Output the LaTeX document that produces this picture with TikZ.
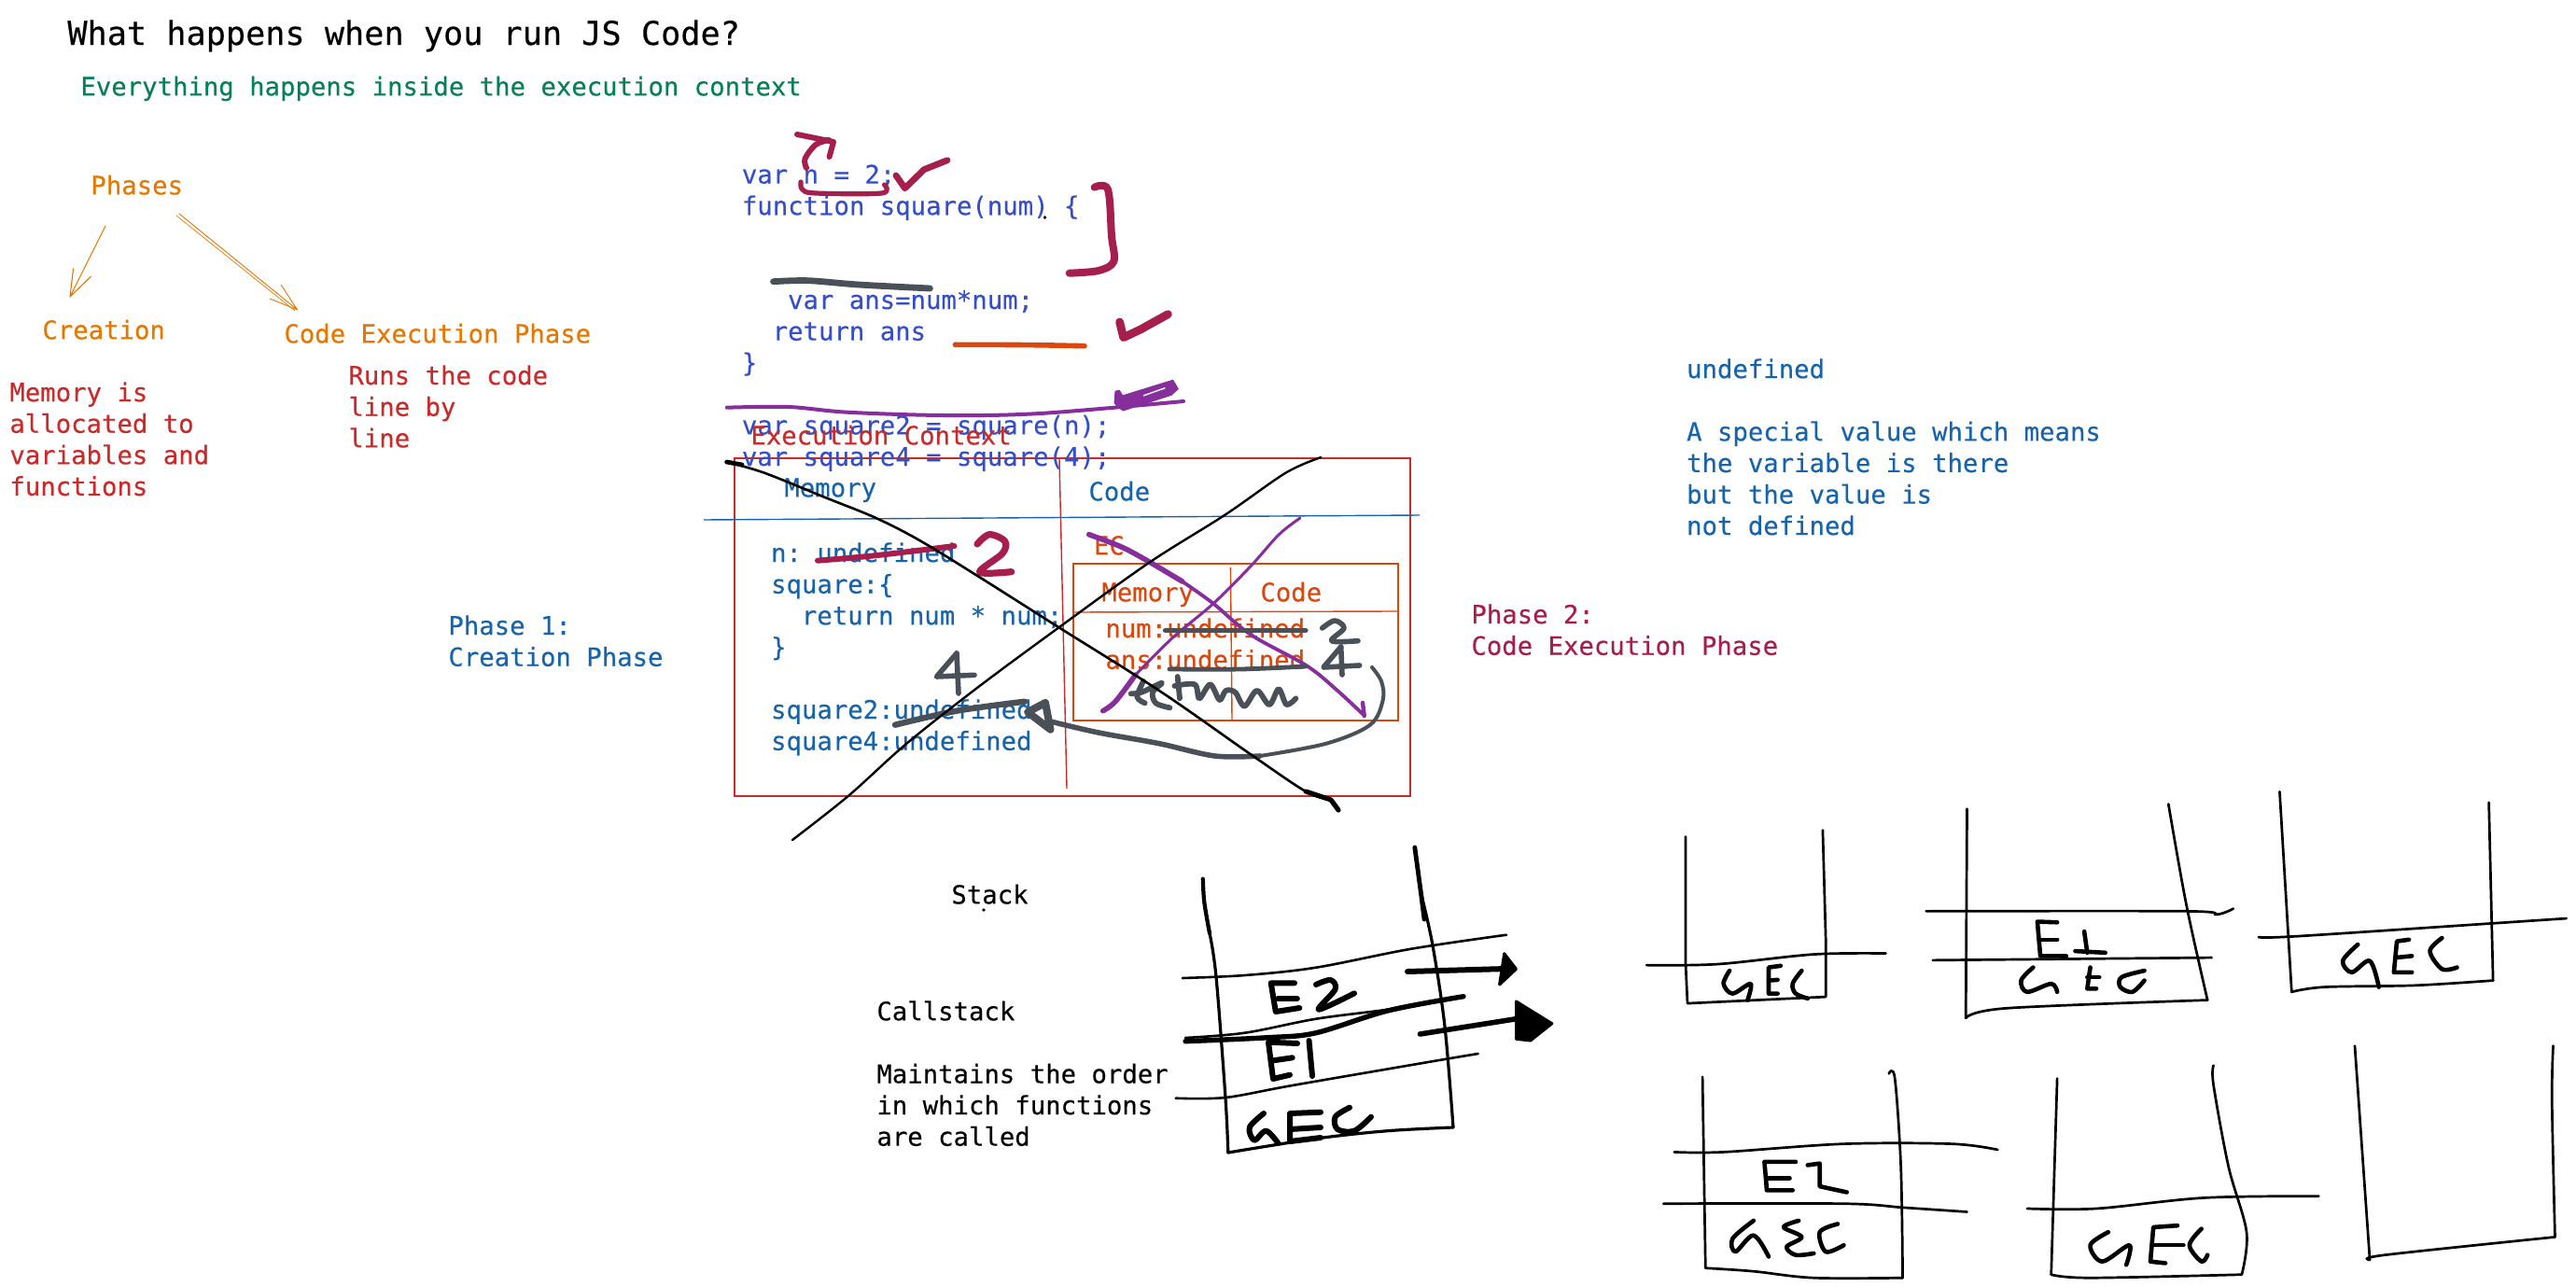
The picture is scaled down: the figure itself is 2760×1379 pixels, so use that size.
\documentclass[tikz,border=0pt]{standalone}
\usepackage{fontspec}
\setmonofont[FakeBold=0.25]{DejaVu Sans Mono}
\definecolor{cOrange}{HTML}{E67700}
\definecolor{cRed}{HTML}{C92A2A}
\definecolor{cGreen}{HTML}{087F5B}
\definecolor{cCode}{HTML}{364FC7}
\definecolor{cBlue}{HTML}{1864AB}
\definecolor{cMaroon}{HTML}{A61E4D}
\definecolor{cGrey}{HTML}{495057}
\definecolor{cBurnt}{HTML}{D9480F}
\definecolor{cPurple}{HTML}{862E9C}
\newcommand\penline[2][]{\draw[pen,#1] plot[smooth,tension=0.55] coordinates {#2};}
\newcommand\polyline[2][]{\draw[pen,#1] plot[sharp plot] coordinates {#2};}
\tikzset{
  txt/.style={anchor=north west,inner sep=0pt,align=left,
    font=\ttfamily\fontsize{13.65pt}{16.8pt}\selectfont,
    execute at begin node=\rule{0pt}{11pt}},
  pen/.style={line cap=round,line join=round,black,line width=1.3pt},
  thinbox/.style={line width=0.7pt},
  zoomC/.style={shift={(1750,830)},x=0.32206pt,y=-0.17507pt},
  zoomR/.style={shift={(1190,690)},x=0.16667pt,y=-0.16667pt}
}
\begin{document}
\begin{tikzpicture}[x=0.5pt,y=-0.5pt]
\useasboundingbox (0,0) rectangle (2760,1379);
\fill[white] (0,0) rectangle (2760,1379);

% boxes
\draw[cRed,thinbox] (787,491) -- (1511,491) -- (1511,853) -- (787,853) -- cycle;
\draw[cRed,thinbox] (1135,492) -- (1143,845);
\draw[cBlue,thinbox] (754,557) -- (1521,552);
\draw[cBurnt,thinbox] (1150,604) -- (1498,604) -- (1498,772) -- (1150,772) -- cycle;
\draw[cBurnt,thinbox] (1318.4,608) -- (1320,771);
\draw[cBurnt,thinbox] (1150,656) -- (1497,655);

% texts
\node[txt,font=\ttfamily\fontsize{17.6pt}{21pt}\selectfont] (title) at (72,21) {What happens when you run JS Code?};
\node[txt,text=cGreen] (everything) at (86,80) {Everything happens inside the execution context};
\node[txt,text=cOrange] (phases) at (97,186) {Phases};
\node[txt,text=cOrange] (creation) at (45,341) {Creation};
\node[txt,text=cOrange] (codeexec) at (304,345) {Code Execution Phase};
\node[txt,text=cRed] (memdesc) at (10,409) {Memory is\\allocated to\\variables and\\functions};
\node[txt,text=cRed] (runsdesc) at (373,391) {Runs the code\\line by\\line};
\node[txt,text=cCode] (code) at (794.5,176) {var n = 2;\\function square(num) \{\\\mbox{}\\\mbox{}\\\hspace*{24.6pt}var ans=num*num;\\\hspace*{16.4pt}return ans\\\}\\\mbox{}\\var square2 = square(n);\\var square4 = square(4);};
\node[txt,text=cRed] (ectitle) at (804,454) {Execution Context};
\node[txt,text=cBlue] (memhead) at (840,510) {Memory};
\node[txt,text=cBlue] (codehead) at (1166,514) {Code};
\node[txt,text=cBlue] (membody) at (825.7,581) {n: undefined\\square:\{\\\hspace*{16.4pt}return num * num;\\\}\\\mbox{}\\square2:undefined\\square4:undefined};
\node[txt,text=cBurnt] (ec) at (1171.5,572) {EC};
\node[txt,text=cBurnt] (memsub) at (1180,622) {Memory};
\node[txt,text=cBurnt] (codesub) at (1350,622) {Code};
\node[txt,text=cBurnt] (subbody) at (1184,662) {num:undefined\\ans:undefined};
\node[txt,text=cBlue] (phase1) at (480,659) {Phase 1:\\Creation Phase};
\node[txt,text=cMaroon] (phase2) at (1576,647) {Phase 2:\\Code Execution Phase};
\node[txt,text=cBlue] (undefdesc) at (1806.7,384) {undefined\\\mbox{}\\A special value which means\\the variable is there\\but the value is\\not defined};
\node[txt] (stack) at (1019,946) {Stack};
\node[txt] (callstack) at (939,1072) {Callstack\\\mbox{}\\Maintains the order\\in which functions\\are called};
\fill (1054,975) circle (0.9pt);
\fill (1119.5,233) circle (0.9pt);

% phase arrows
\coordinate (a1s) at (113,242);
\coordinate (a1e) at (75,318);
\coordinate (a2s) at (192,229);
\coordinate (a2e) at (318.6,332);
\draw[cOrange,line width=0.55pt,line join=round] (a1s) -- (a1e) (78.6,287.5) -- (a1e) -- (97.6,296);
\draw[cOrange,line width=0.45pt,line join=round] (a2s) -- (a2e) (301,305) -- (a2e) -- (289,320);
\draw[cOrange,line width=0.35pt] (189,231) -- (316,333);

% maroon marks
\begin{scope}[pen/.append style={cMaroon,line width=3pt}]
\polyline{(854,144)(893,152)(888.6,168)}
\penline{(864,180)(862.5,170)(874,155)(888,150)}
\penline[line width=2.6pt]{(858,195)(859.6,203)(874,207)(944.6,207)(947.5,198)}
\polyline[line width=3.4pt]{(960,188)(969.5,201.7)(990,181.7)(1015,171.7)}
\penline[line width=4pt]{(1172.6,200.7)(1187,203)(1191,253)(1193.4,280)(1177,290)(1145.7,292.7)}
\polyline[line width=4.4pt]{(1199.6,345)(1203.7,361.7)(1222,353)(1251.4,336.7)}
\penline[line width=3pt]{(876,600.7)(940,595)(1022.5,585)}
\penline[line width=3.6pt]{(1047,583)(1060,572.7)(1076.7,580)(1074,593)(1049.6,613)(1083.7,612.7)}
\end{scope}

% grey and orange bars
\penline[cGrey,line width=3.4pt]{(828.5,301.7)(866,300.7)(919.7,305)(996.4,309)}
\penline[cBurnt,line width=2.8pt]{(1023.4,369.3)(1100,369.6)(1162,370.7)}

% purple marks
\penline[cPurple,line width=2pt]{(778.8,436.7)(845,436)(907.3,441.7)(1011,445)(1114.6,443)(1268,430)}
\fill[cPurple,draw=cPurple,line width=0.5pt,line join=round] (1194,431.7) -- (1195,419.3) -- (1199.3,418.3) -- (1202.7,424) -- (1256.7,407.3) -- (1262.3,416.7) -- (1255,423.3) -- (1203.3,440) -- (1196.7,435) -- cycle;
\draw[white,line width=0.7pt] (1225,424) -- (1248.3,415.7);
\penline[cPurple,line width=2.8pt]{(1166.7,572.7)(1203,586.7)(1233,603)(1266.7,623)}
\penline[cPurple,line width=1.9pt]{(1266.7,623)(1300,646.7)(1340,680)(1400,713.3)(1433,740)(1461.7,766.7)}
\draw[pen,cPurple,line width=2.2pt] (1460,753) -- (1461.7,767);
\penline[cPurple,line width=2.8pt]{(1181.7,761.7)(1195,751.7)(1216.7,723)}
\penline[cPurple,line width=1.5pt]{(1216.7,723)(1256.7,683)(1300,646.7)(1340,606.7)(1370,573)(1393,555)}

% grey marks on the context
\begin{scope}[pen/.append style={cGrey,line width=2.8pt}]
\polyline{(1025,700)(1003.5,725)(1044,723.3)}
\draw[pen] (1025,700) -- (1027,743);
\penline[line width=3.2pt]{(959,776.7)(1025,761.7)(1098,751.7)}
\polyline[line width=4pt]{(1120,753)(1101,763)(1125.5,781.7)(1120,753)}
\penline[line width=2.8pt]{(1125.5,773)(1177,785)(1242,796.7)(1301.6,810)(1350,810)}
\penline[line width=2pt]{(1350,810)(1421,796.7)(1468,776.7)(1481.7,750)(1480,730)(1470,715)}
\draw[pen,line width=2.6pt] (1248.5,675.7) -- (1399,675.7);
\penline[line width=2.4pt]{(1253,717)(1330,717)(1399,714)}
\penline[line width=2.8pt]{(1416.7,673)(1430,665)(1440,673)(1426.7,686.7)(1455,686.7)}
\polyline{(1436.7,693)(1418,715)(1456.7,713)}
\draw[pen] (1436.7,693) -- (1438,723);
\begin{scope}[zoomR]
\penline[line width=2.9pt]{(65,160)(100,155)(165,125)(135,155)(145,190)(190,205)}
\penline[line width=2.9pt]{(105,120)(85,170)(110,190)}
\draw[pen,line width=2.9pt] (215,105) -- (222,175);
\penline[line width=2.9pt]{(205,135)(270,130)(285,175)(320,130)(350,180)(370,150)(400,155)(430,200)(470,150)(510,195)(540,145)(565,195)(595,175)}
\end{scope}
\end{scope}

% black cross
\penline[line width=1.3pt]{(778.6,495)(819,506.7)(884,533)(938.5,555)(987,580)(1052,620)(1133.6,671.7)(1242,740)(1339.6,808)(1399,848)(1426,857)}
\draw[pen,line width=2.6pt] (1399,848) -- (1426,857) -- (1434,868);
\draw[pen,line width=2.4pt] (778.6,495) -- (795,498);
\penline[line width=1.2pt]{(1415.4,490)(1377.5,506.7)(1312.5,551.7)(1231,603)(1133.6,673)(1047,737)(971,797)(908.7,853)(849,900)}

% main stack
\begin{scope}[pen/.append style={line width=1.6pt}]
\penline[line width=2.1pt]{(1288.8,941.7)(1290.3,966.7)(1296,1000)}
\penline{(1296,1000)(1303,1046.7)(1313,1176.7)(1315.8,1235)}
\penline{(1315.8,1235)(1410,1220)(1486.7,1211.7)(1557,1208)}
\penline{(1557,1208)(1548,1100)(1535,1013)(1522.4,956.7)}
\penline[line width=2.4pt]{(1526,985)(1522.4,956.7)(1515.8,908)}
\penline[line width=1.3pt]{(1267,1048)(1333.7,1045)(1410,1036.7)(1512,1016.7)(1614,1001.7)}
\penline[line width=2.7pt]{(1270,1115.7)(1359,1111.7)(1410,1106.7)(1486.7,1083)(1568,1067.7)}
\penline[line width=1.3pt]{(1270,1112)(1333.7,1106.7)(1410,1091.7)(1486.7,1081.7)(1548,1071.7)}
\penline[line width=1.3pt]{(1259.7,1176.7)(1313,1176)(1384.7,1163)(1537.8,1136.7)(1583.7,1129)}
\begin{scope}[pen/.append style={line width=3pt}]
\polyline{(1387,1053.3)(1361.7,1053.3)(1366.8,1084)(1392.3,1080)}
\draw[pen] (1369.4,1070) -- (1389.8,1070);
\penline{(1410,1055)(1425.5,1050)(1430.6,1060)(1412.8,1081.7)(1451,1064.3)}
\polyline{(1390,1118)(1359,1116.7)(1364,1156)(1382,1151.7)}
\draw[pen] (1361.7,1136.7) -- (1384.7,1133.3);
\draw[pen] (1402.5,1115) -- (1406,1153);
\penline{(1354,1193)(1338.8,1208)(1343.9,1221.7)(1356.6,1211.7)(1369.4,1225)}
\polyline{(1415,1191.7)(1382,1193)(1382,1223)(1415,1219)}
\draw[pen] (1382,1210) -- (1415,1208);
\penline{(1446,1186.7)(1430.6,1196.7)(1433,1210)(1451,1211.7)(1469,1196.7)}
\end{scope}
\end{scope}
\coordinate (ar1s) at (1508,1041);
\coordinate (ar1e) at (1614,1038);
\coordinate (ar2s) at (1521.4,1108);
\coordinate (ar2e) at (1624.5,1091.7);
\draw[pen,line width=3pt] (ar1s) -- (ar1e);
\fill[black,draw=black,line width=1.5pt,line join=round] (1611.7,1021.7) -- (1624.5,1038.3) -- (1606.6,1055) -- cycle;
\draw[pen,line width=2.8pt] (ar2s) -- (ar2e);
\fill[black,draw=black,line width=1.5pt,line join=round] (1624.5,1073) -- (1662.8,1096.7) -- (1639.8,1115) -- (1624.5,1113.3) -- cycle;

% small stacks
\begin{scope}[zoomC,pen/.append style={line width=1.35pt}]
% stack 1
\polyline{(87,190)(87,580)(90,700)(320,680)(320,500)(315,170)}
\penline{(22,583)(140,580)(300,550)(420,547)}
\begin{scope}[pen/.append style={line width=2.3pt}]
\penline{(160,600)(150,640)(165,670)(195,640)(190,690)}
\polyline{(245,585)(225,590)(225,670)(240,670)}
\draw[pen] (225,630) -- (240,628);
\penline{(280,600)(265,640)(270,670)(290,685)}
\end{scope}
% stack 2
\polyline{(555,105)(553,745)}
\penline{(553,745)(620,715)(955,690)}
\penline{(955,690)(920,400)(890,90)}
\penline{(487,418)(920,418)(970,428)(998,410)}
\polyline{(498,568)(962,560)}
\begin{scope}[pen/.append style={line width=2.3pt}]
\polyline{(705,452)(672,450)(677,555)(720,555)}
\draw[pen] (675,505) -- (705,505);
\draw[pen] (750,480) -- (755,545);
\draw[pen] (735,540) -- (785,545);
\penline{(665,590)(645,630)(655,665)(695,640)(705,665)}
\polyline{(760,590)(755,655)(770,655)}
\draw[pen] (755,620) -- (775,620);
\penline{(850,600)(812,620)(810,650)(830,665)(850,630)}
\end{scope}
% stack 3
\polyline{(1075,52)(1095,665)}
\penline{(1095,665)(1150,650)(1300,645)(1430,630)}
\polyline{(1430,630)(1423,85)}
\penline{(1040,497)(1100,495)(1430,455)(1552,440)}
\begin{scope}[pen/.append style={line width=2.3pt}]
\penline{(1205,520)(1180,570)(1195,605)(1225,570)(1240,650)}
\polyline{(1290,505)(1270,510)(1265,605)(1295,605)}
\draw[pen] (1268,560) -- (1295,555);
\penline{(1345,500)(1325,540)(1345,595)(1370,590)}
\end{scope}
% stack 4
\polyline{(115,925)(120,1510)}
\penline{(120,1510)(200,1520)(300,1540)(448,1540)}
\penline{(448,1540)(445,1200)(435,930)(425,915)}
\penline{(68,1155)(150,1155)(350,1130)(530,1130)(606,1148)}
\penline{(50,1313)(350,1313)(450,1325)(555,1338)}
\begin{scope}[pen/.append style={line width=2.3pt}]
\polyline{(270,1185)(218,1185)(222,1272)(265,1272)}
\draw[pen] (222,1235) -- (260,1235);
\polyline{(290,1195)(310,1190)(310,1260)(355,1278)}
\penline{(200,1365)(165,1420)(170,1460)(200,1410)(225,1475)}
\penline{(275,1365)(250,1385)(280,1415)(255,1445)(270,1470)(300,1465)}
\penline{(340,1375)(310,1400)(320,1460)(350,1440)}
\end{scope}
% stack 5
\polyline{(705,930)(695,1530)}
\penline{(695,1530)(760,1540)(1012,1530)}
\penline{(1012,1530)(1020,1400)(990,1200)(965,950)(965,890)}
\penline{(655,1328)(770,1328)(950,1295)(1140,1290)}
\begin{scope}[pen/.append style={line width=2.3pt}]
\penline{(790,1400)(760,1440)(780,1490)(825,1440)(820,1500)}
\polyline{(905,1380)(865,1385)(860,1490)(885,1495)}
\draw[pen] (865,1440) -- (915,1440);
\penline{(945,1390)(925,1440)(945,1490)(955,1470)}
\end{scope}
% stack 6
\polyline{(1200,830)(1225,1485)}
\penline{(1225,1485)(1250,1470)(1533,1415)}
\penline{(1533,1415)(1528,1000)(1530,830)}
\end{scope}
\end{tikzpicture}
\end{document}
